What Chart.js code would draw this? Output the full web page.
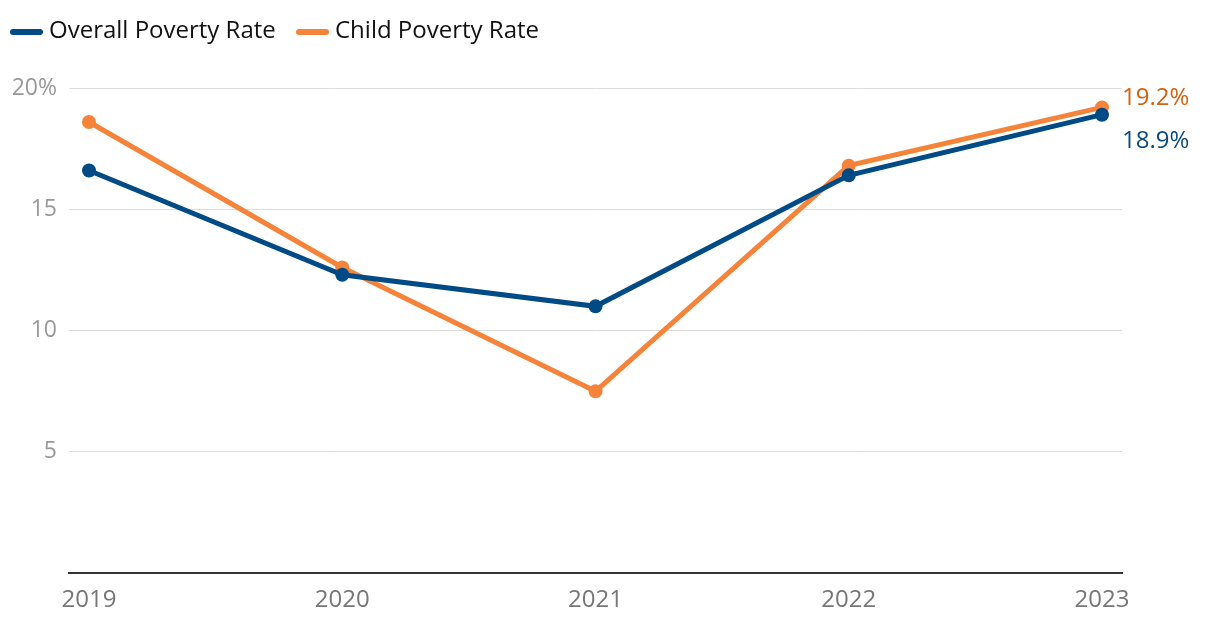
<!DOCTYPE html>
<html>
<head>
<meta charset="utf-8">
<script src="https://cdn.jsdelivr.net/npm/chart.js@4.4.1/dist/chart.umd.min.js"></script>
<style>
  html, body { margin: 0; padding: 0; background: #fff; }
  #wrap { width: 1220px; height: 628px; position: relative; }
</style>
</head>
<body>
<div id="wrap"><canvas id="povertyChart" width="1220" height="628"></canvas></div>
<script>
var years = [2019, 2020, 2021, 2022, 2023];
var overall_rate = [16.6, 12.3, 11.0, 16.4, 18.9];
var child_rate = [18.6, 12.6, 7.5, 16.8, 19.2];
var y_ticks = [0, 5, 10, 15, 20];

var BLUE = '#004b85';
var ORANGE = '#f5833a';
var FONT = "'Open Sans', 'Noto Sans', sans-serif";

function to_points(values){
    var pts = [];
    for (var i = 0; i < years.length; i++) {
        pts.push({x: years[i], y: values[i]});
    }
    return pts;
}

// legend drawn by hand so the markers look like the original
var lineLegend = {
    id: 'lineLegend',
    afterDraw: function(chart){
        var ctx = chart.ctx;
        var items = [
            {text: 'Overall Poverty Rate', color: BLUE, x: 13},
            {text: 'Child Poverty Rate', color: ORANGE, x: 299}
        ];
        ctx.save();
        ctx.font = '24px ' + FONT;
        ctx.textBaseline = 'middle';
        ctx.textAlign = 'left';
        items.forEach(function(it){
            ctx.strokeStyle = it.color;
            ctx.lineWidth = 6;
            ctx.lineCap = 'round';
            ctx.beginPath();
            ctx.moveTo(it.x, 32);
            ctx.lineTo(it.x + 27, 32);
            ctx.stroke();
            ctx.fillStyle = '#111';
            ctx.fillText(it.text, it.x + 36, 31);
        });
        ctx.restore();
    }
};

// end-of-line value labels
var endLabels = {
    id: 'endLabels',
    afterDatasetsDraw: function(chart){
        var ctx = chart.ctx;
        var cfg = [
            {ds: 1, color: '#d2620f', dy: -9},
            {ds: 0, color: '#0b4a7f', dy: 26}
        ];
        ctx.save();
        ctx.font = '24px ' + FONT;
        ctx.textBaseline = 'middle';
        ctx.textAlign = 'left';
        cfg.forEach(function(c){
            var meta = chart.getDatasetMeta(c.ds);
            var last = meta.data[meta.data.length - 1];
            var vals = chart.data.datasets[c.ds].data;
            ctx.fillStyle = c.color;
            ctx.fillText(vals[vals.length - 1].y.toFixed(1) + '%', last.x + 20, last.y + c.dy);
        });
        ctx.restore();
    }
};

function pageLoad(){
    var ctx = document.getElementById('povertyChart');
    var povertyChart = new Chart(ctx, {
        type: 'line',
        data: {
            datasets: [{
                label: 'Overall Poverty Rate',
                data: to_points(overall_rate),
                borderColor: BLUE,
                backgroundColor: BLUE,
                borderWidth: 5,
                pointRadius: 7,
                pointHoverRadius: 7,
                pointBorderWidth: 0,
                tension: 0
            }, {
                label: 'Child Poverty Rate',
                data: to_points(child_rate),
                borderColor: ORANGE,
                backgroundColor: ORANGE,
                borderWidth: 5,
                pointRadius: 7,
                pointHoverRadius: 7,
                pointBorderWidth: 0,
                tension: 0
            }]
        },
        options: {
            responsive: false,
            animation: false,
            layout: {padding: {left: 0, right: 98, top: 88, bottom: 0}},
            plugins: {
                tooltip: {enabled: false},
                legend: {display: false}
            },
            scales: {
                x: {
                    type: 'linear',
                    min: 2019 - 0.079,
                    max: 2023 + 0.079,
                    afterBuildTicks: function(axis){
                        axis.ticks = years.map(function(v){ return {value: v}; });
                    },
                    ticks: {
                        color: '#777',
                        padding: 13,
                        font: {family: FONT, size: 24},
                        callback: function(v){ return String(v); }
                    },
                    grid: {display: false, drawTicks: false},
                    border: {color: '#333', width: 2}
                },
                y: {
                    min: 0,
                    max: 20,
                    afterBuildTicks: function(axis){
                        axis.ticks = y_ticks.map(function(v){ return {value: v}; });
                    },
                    afterFit: function(axis){ axis.width = 69; },
                    ticks: {
                        color: '#999',
                        padding: 12,
                        font: {family: FONT, size: 23},
                        callback: function(v){
                            if (v === 0) return '';
                            return v === 20 ? v + '%' : String(v);
                        }
                    },
                    grid: {color: '#dddddd', lineWidth: 1, drawTicks: false},
                    border: {display: false}
                }
            }
        },
        plugins: [endLabels, lineLegend]
    });
}

window.onload = pageLoad;
</script>
</body>
</html>
